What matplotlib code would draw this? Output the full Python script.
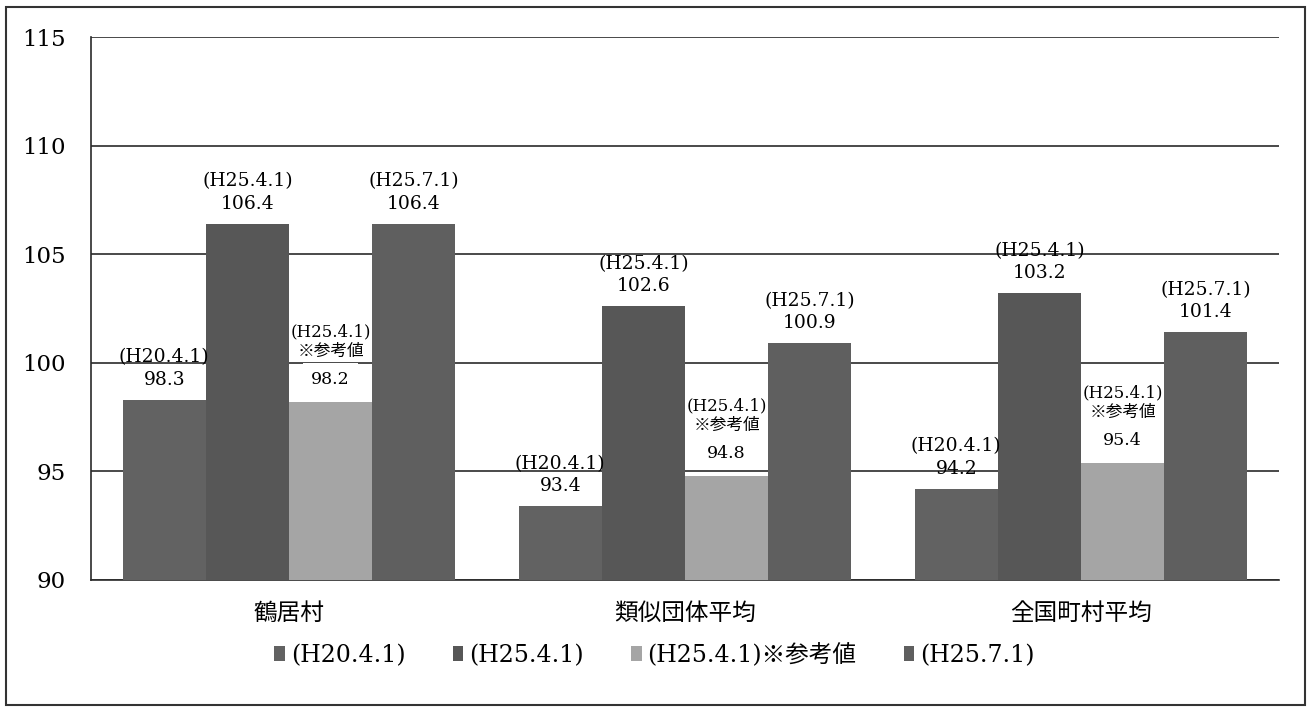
import matplotlib
matplotlib.use("Agg")
import matplotlib.pyplot as plt
import numpy as np
from matplotlib.patches import Rectangle

plt.rcParams["font.family"] = ["DejaVu Serif", "Noto Sans CJK JP"]
plt.rcParams["axes.unicode_minus"] = False

categories = ["鶴居村", "類似団体平均", "全国町村平均"]
series_names = ["(H20.4.1)", "(H25.4.1)", "(H25.4.1)※参考値", "(H25.7.1)"]
h20_04 = [98.3, 93.4, 94.2]
h25_04 = [106.4, 102.6, 103.2]
h25_04_ref = [98.2, 94.8, 95.4]
h25_07 = [106.4, 100.9, 101.4]
yticks = [90, 95, 100, 105, 110, 115]

series = [h20_04, h25_04, h25_04_ref, h25_07]
colors = ["#626262", "#575757", "#a5a5a5", "#5f5f5f"]
label_heads = ["(H20.4.1)", "(H25.4.1)", "(H25.4.1)\n※参考値", "(H25.7.1)"]

W, H = 1309, 708
fig = plt.figure(figsize=(W / 100, H / 100), dpi=100)
ax = fig.add_axes([91 / W, 1 - 580 / H, (1279 - 91) / W, (580 - 37) / H])

x = np.arange(len(categories))
bw = 0.21
for i, (vals, c) in enumerate(zip(series, colors)):
    pos = x + (i - 1.5) * bw
    ax.bar(pos, np.array(vals) - 90, bw, bottom=90, color=c, zorder=3,
           label=series_names[i])
    for px, v in zip(pos, vals):
        if i == 2:
            # 参考値は数値部分に白地を敷く
            ax.annotate(f"{v:.1f}", (px, v), xytext=(0, 10), textcoords="offset points",
                        ha="center", va="bottom", fontsize=12.5, zorder=4,
                        bbox=dict(boxstyle="square,pad=0.45", fc="white", ec="none"))
            ax.annotate(label_heads[i], (px, v), xytext=(0, 30), textcoords="offset points",
                        ha="center", va="bottom", fontsize=12, linespacing=1.2, zorder=4)
        else:
            ax.annotate(f"{label_heads[i]}\n{v:.1f}", (px, v), xytext=(0, 8),
                        textcoords="offset points", ha="center", va="bottom",
                        fontsize=13.5, linespacing=1.3, zorder=4)

ax.set_xlim(-0.5, 2.5)
ax.set_ylim(90, 115)
ax.set_yticks(yticks)
ax.grid(axis="y", color="#2a2a2a", linewidth=1.2, zorder=0)
ax.set_axisbelow(True)
ax.tick_params(axis="y", length=0, pad=18, labelsize=16.5)
ax.tick_params(axis="x", length=0, pad=16)
ax.set_xticks(x)
ax.set_xticklabels(categories, fontsize=17)
for s in ["top", "right"]:
    ax.spines[s].set_visible(False)
for s in ["left", "bottom"]:
    ax.spines[s].set_color("#2a2a2a")
    ax.spines[s].set_linewidth(1.2)

fig.legend(loc="center", bbox_to_anchor=(0.5, 1 - 655 / H), ncol=4, frameon=False,
           fontsize=17, handlelength=0.45, handleheight=0.55, handletextpad=0.25,
           columnspacing=2.0)

# 外枠
fig.add_artist(Rectangle((6 / W, 3 / H), (1305 - 6) / W, (701 - 3) / H,
                         transform=fig.transFigure, fill=False, ec="#333333", lw=1.5))

fig.savefig("out.png", dpi=100)
